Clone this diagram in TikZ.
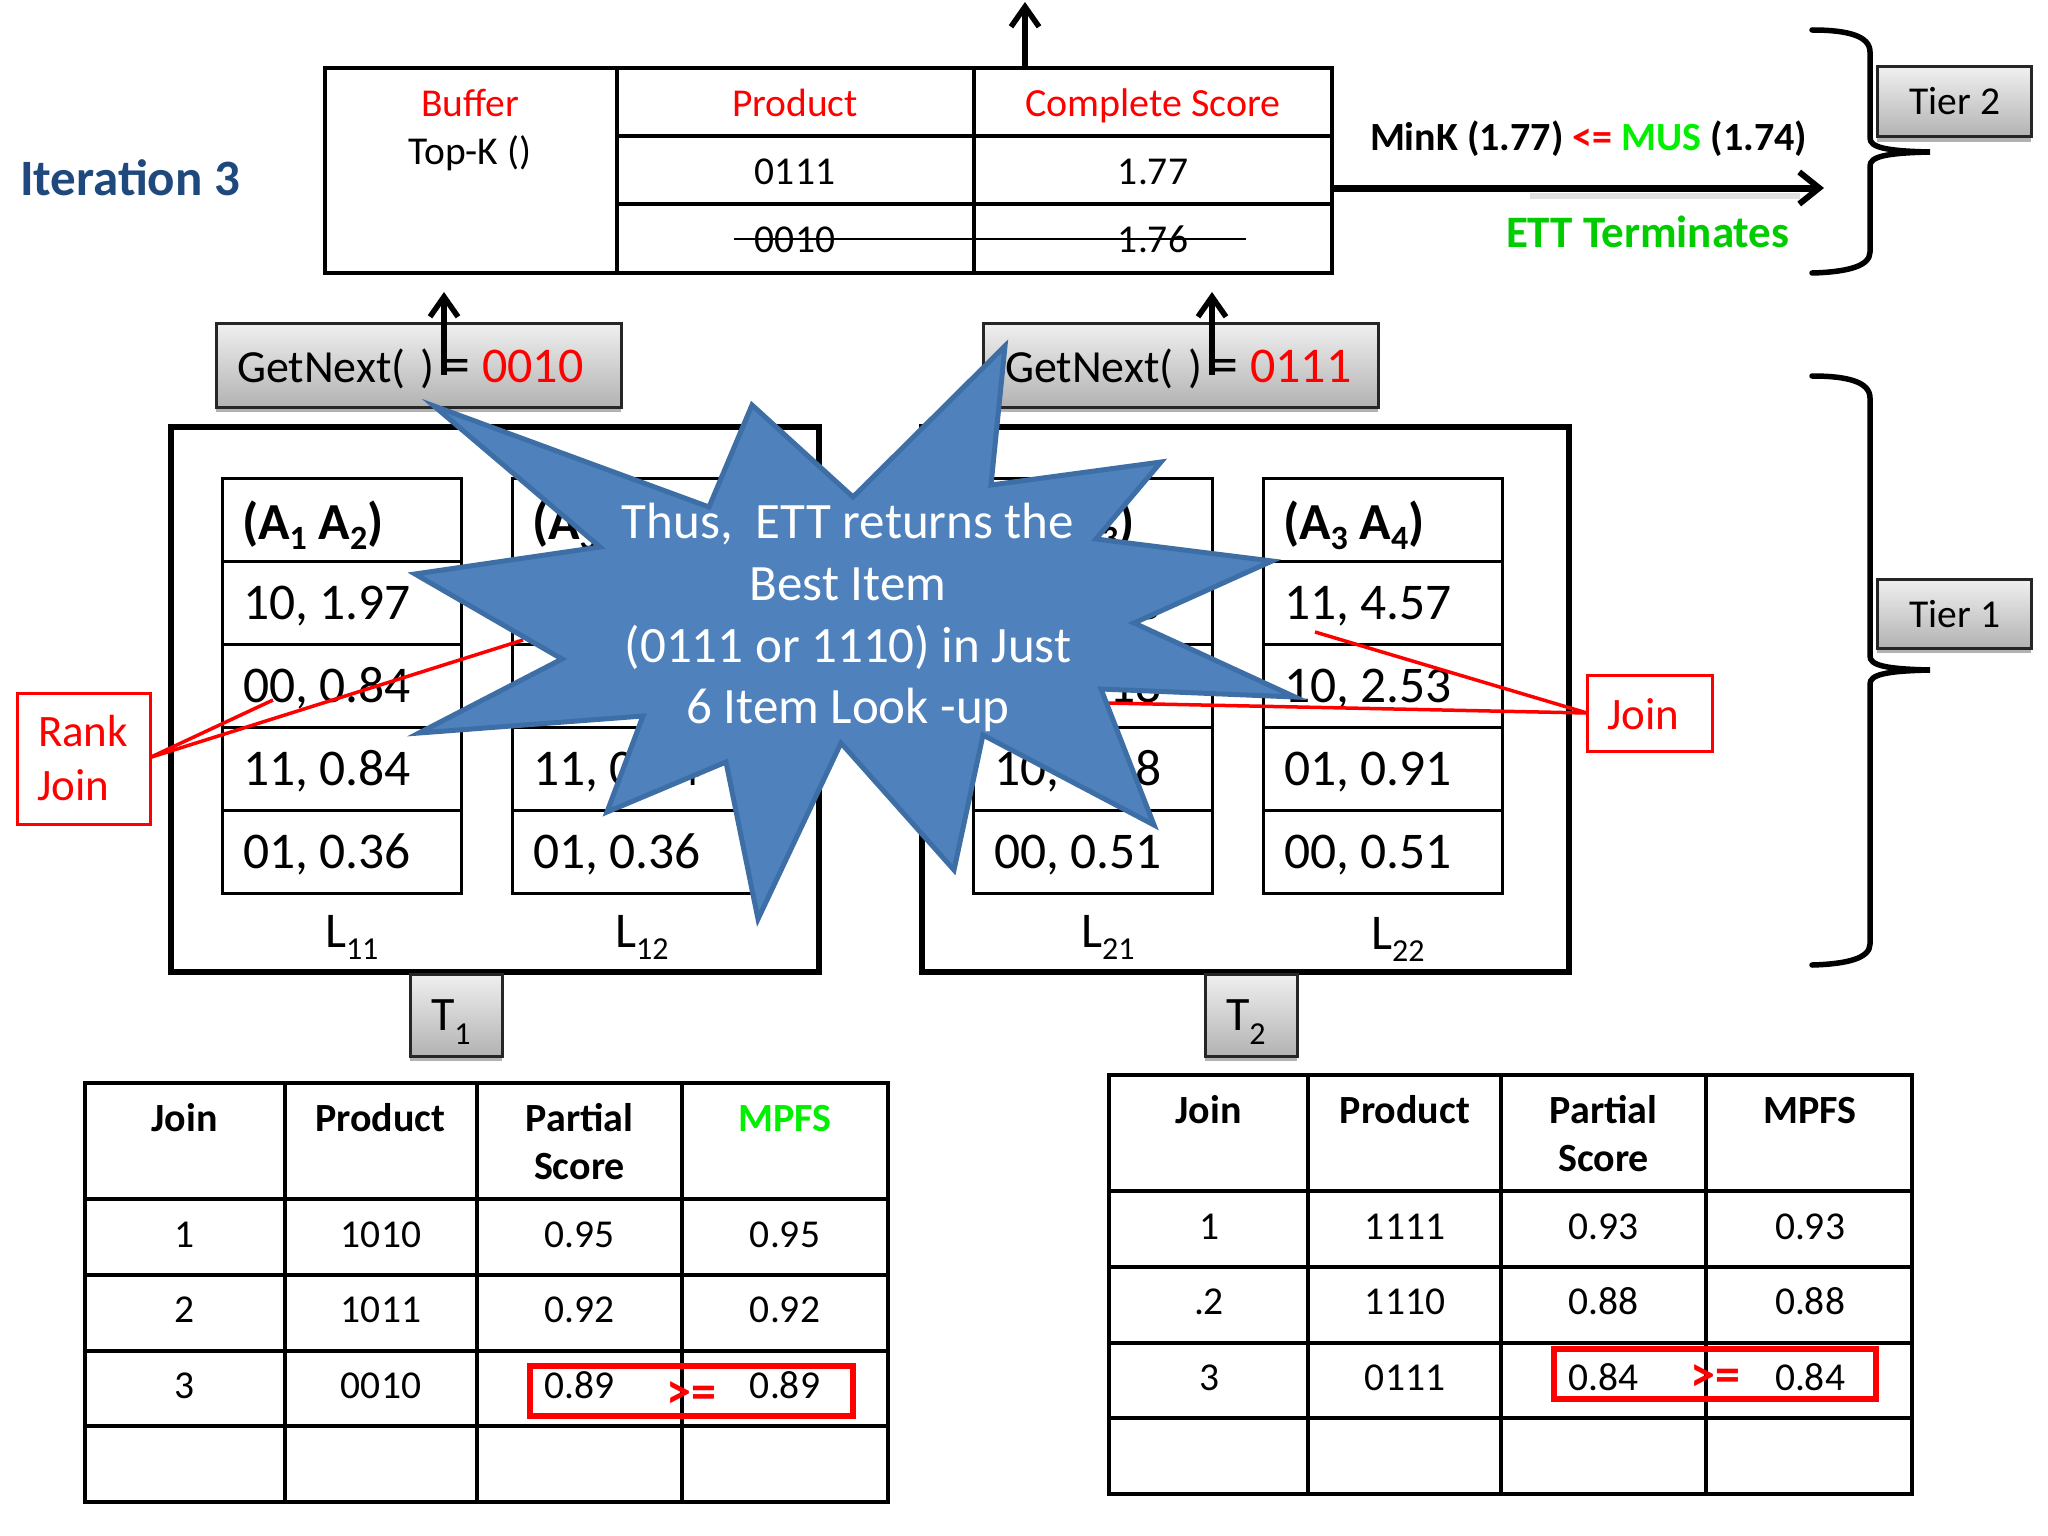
\documentclass[tikz,border=0pt]{standalone}
\usepackage{fontspec}
\setmainfont{Carlito}
\usetikzlibrary{arrows.meta,shadows}
\definecolor{starfill}{HTML}{4F81BD}
\definecolor{starline}{HTML}{3D6FA6}
\definecolor{titleblue}{HTML}{1F497D}
\definecolor{brightgreen}{HTML}{00F000}
\definecolor{darkgreen}{HTML}{00CC00}
\newcommand\fs[1]{\fontsize{#1}{#1}\selectfont}
\newcounter{txn}
\newcommand\tx[4][]{\stepcounter{txn}\node[txt,#1] (t\thetxn) at (#2,#3) {#4};}
\newcommand\bx[6]{\node[#6,inner sep=0pt,outer sep=0pt,minimum width={(#4-(#2))*1pt},minimum height={(#5-(#3))*1pt}] (#1) at ({(#2+#4)/2},{(#3+#5)/2}) {};}
\newcommand\sbs[2]{\lower#1pt\hbox{\fs{32}\mdseries #2}}
\newcommand\sbb[2]{\lower#1pt\hbox{\fs{34}\bfseries #2}}
\tikzset{
  x=1pt,y=-1pt,
  txt/.style={inner sep=0pt,outer sep=0pt,anchor=base,font=\fs{39.5}},
  lefttxt/.style={anchor=base west},
  grid/.style={draw=black,line width=3.2pt},
  gridbox/.style={draw=black,line width=3.2pt,fill=white},
  outer/.style={draw=black,line width=6pt},
  listbox/.style={draw=black,line width=3pt,fill=white},
  greybox/.style={draw=black!85,line width=3pt,top color=black!6,bottom color=black!30,
    drop shadow={shadow xshift=0pt,shadow yshift=-5pt,opacity=.3,fill=black}},
  redbox/.style={draw=red,line width=3pt},
  redthick/.style={draw=red,line width=6pt},
  redline/.style={draw=red,line width=3.5pt},
  barb/.style={line width=5.5pt,-{Straight Barb[length=20pt,width=28pt,line width=5.5pt]}},
  brace/.style={line width=5.5pt,line cap=round},
}
\begin{document}
\begin{tikzpicture}
\useasboundingbox (0,0) rectangle (2048,1536);
% top buffer table
\bx{topt}{325}{68}{1332}{273}{gridbox}
\coordinate (topA) at (617,68); \coordinate (topB) at (617,273);
\coordinate (topC) at (974,68); \coordinate (topD) at (974,273);
\coordinate (topE) at (617,136); \coordinate (topF) at (1332,136);
\coordinate (topG) at (617,204); \coordinate (topH) at (1332,204);
\draw[grid] (topA)--(topB) (topC)--(topD) (topE)--(topF) (topG)--(topH);
\tx[font=\fs{51}\bfseries,text=titleblue,lefttxt]{20}{195}{Iteration 3}
\tx[text=red]{470}{116.5}{Buffer}
\tx{470}{164.5}{Top-K ()}
\tx[text=red]{795}{116.5}{Product}
\tx[text=red,font=\fs{40}]{1153}{116.5}{Complete Score}
\tx{795}{184}{0111}
\tx{1153}{184}{1.77}
\tx{795}{252}{0010}
\tx{1153}{252}{1.76}
\coordinate (strikeA) at (734,239); \coordinate (strikeB) at (1246,239);
\draw[line width=2.5pt] (strikeA)--(strikeB);
% arrows out of table
\coordinate (upTip) at (1025,2); \coordinate (upBase) at (1025,68);
\draw[barb] (upBase)--(upTip);
\coordinate (rA) at (1332,188); \coordinate (rB) at (1824,188);
\draw[line width=6pt,black!20,opacity=.6] (1530,196)--(1800,196);
\draw[line width=7pt,-{Straight Barb[length=20pt,width=32pt,line width=6pt]}] (rA)--(rB);
\tx[font=\fs{40}\bfseries,lefttxt]{1370}{150}{MinK (1.77) \textcolor{red}{<=} \textcolor{brightgreen}{MUS} (1.74)}
\tx[font=\fs{45}\bfseries,text=darkgreen,lefttxt]{1506}{247}{ETT Terminates}
% braces
\draw[brace] (1812,30) .. controls (1848,30) and (1870,36) .. (1870,52) -- (1870,138)
  .. controls (1870,147) and (1884,151) .. (1930,152)
  .. controls (1884,153) and (1870,157) .. (1870,166) -- (1870,252)
  .. controls (1870,266) and (1848,272) .. (1812,273);
\draw[brace] (1812,376) .. controls (1848,376) and (1870,382) .. (1870,398) -- (1870,656)
  .. controls (1870,665) and (1884,669) .. (1930,670)
  .. controls (1884,671) and (1870,675) .. (1870,684) -- (1870,944)
  .. controls (1870,958) and (1848,964) .. (1812,965);
\bx{tierII}{1877}{67}{2031}{137}{greybox}
\tx{1955}{115}{Tier 2}
\bx{tierI}{1877}{579}{2031}{648}{greybox}
\tx{1955}{627}{Tier 1}
% outer boxes
\bx{outerI}{171}{427}{819}{972}{outer}
\bx{outerII}{922}{427}{1569}{972}{outer}
% list boxes
\foreach \nm/\xa/\xb in {la/222/461,lb/512/751,lc/973/1212,ld/1263/1502}{
  \foreach \r/\ya/\yb in {1/478/561,2/561/644,3/644/727,4/727/810,5/810/893}{
    \bx{\nm\r}{\xa}{\ya}{\xb}{\yb}{listbox}
  }
}
\tikzset{lst/.style={font=\fs{51.5},lefttxt},lsth/.style={font=\fs{52}\bfseries,lefttxt}}
\tx[lsth]{242}{539}{(A\sbb{10}{1} A\sbb{10}{2})}
\tx[lst]{243}{619}{10, 1.97}
\tx[lst]{243}{702}{00, 0.84}
\tx[lst]{243}{785}{11, 0.84}
\tx[lst]{243}{868}{01, 0.36}
\tx[lsth]{532}{539}{(A\sbb{10}{3} A\sbb{10}{4})}
\tx[lst]{533}{785}{11, 0.84}
\tx[lst]{533}{868}{01, 0.36}
\tx[lsth]{993}{539}{(A\sbb{10}{1} A\sbb{10}{3})}
\tx[lst]{994}{619}{11, 1.08}
\tx[lst]{994}{702}{01, 0.18}
\tx[lst]{994}{785}{10, 0.18}
\tx[lst]{994}{868}{00, 0.51}
\tx[lsth]{1283}{539}{(A\sbb{10}{3} A\sbb{10}{4})}
\tx[lst]{1284}{619}{11, 4.57}
\tx[lst]{1284}{702}{10, 2.53}
\tx[lst]{1284}{785}{01, 0.91}
\tx[lst]{1284}{868}{00, 0.51}
\tx[font=\fs{50},lefttxt]{325}{947}{L\sbs{12}{11}}
\tx[font=\fs{50},lefttxt]{615}{947}{L\sbs{12}{12}}
\tx[font=\fs{50},lefttxt]{1081}{947}{L\sbs{12}{21}}
\tx[font=\fs{50},lefttxt]{1371}{949}{L\sbs{12}{22}}
% T tabs
\bx{tabI}{410}{974}{502}{1056}{greybox}
\tx[font=\fs{48},lefttxt]{431}{1030}{T\sbs{14}{1}}
\bx{tabII}{1205}{974}{1297}{1056}{greybox}
\tx[font=\fs{48},lefttxt]{1226}{1030}{T\sbs{14}{2}}
% GetNext boxes and arrows
\bx{gnI}{216}{323}{621}{407}{greybox}
\tx[font=\fs{46},lefttxt]{237}{382}{GetNext(\,\,)}
\tx[font=\fs{56},lefttxt]{442}{383}{=}
\tx[font=\fs{50},text=red,lefttxt]{482}{382}{0010}
\coordinate (gnIa) at (444,375); \coordinate (gnIb) at (444,292);
\draw[barb] (gnIa)--(gnIb);
\bx{gnII}{983}{323}{1378}{407}{greybox}
\tx[font=\fs{46},lefttxt]{1005}{382}{GetNext(\,\,)}
\tx[font=\fs{56},lefttxt]{1210}{383}{=}
\tx[font=\fs{50},text=red,lefttxt]{1250}{382}{0111}
\coordinate (gnIIa) at (1212,375); \coordinate (gnIIb) at (1212,292);
\draw[barb] (gnIIa)--(gnIIb);
% rank join / join
\bx{rankbox}{17}{693}{150}{824}{redbox}
\tx[font=\fs{45},text=red,lefttxt]{38}{746}{Rank}
\tx[font=\fs{45},text=red,lefttxt]{37}{800}{Join}
\coordinate (rjA) at (273,700); \coordinate (rjB) at (523,640);
\draw[redline] (rankbox.east)++(0,-1)--(rjA);
\draw[redline] (rankbox.east)++(0,-1)--(rjB);
\bx{joinbox}{1587}{675}{1712}{751}{redbox}
\tx[font=\fs{45},text=red,lefttxt]{1607}{729}{Join}
\coordinate (jA) at (1315,632); \coordinate (jB) at (1105,703);
\draw[redline] (joinbox.west)--(jA);
\draw[redline] (joinbox.west)--(jB);
% star
\draw[fill=starfill,draw=starline,line width=5pt,line join=miter,miter limit=20]
 (434,406)--(709,507)--(752,405)--(853,497)--(1005,346)--(991,485)--(1161,462)--(1096,539)
 --(1272,561)--(1134,623)--(1295,697)--(1101,689)--(1154,825)--(983,735)--(954,870)
 --(841,743)--(758,919)--(726,762)--(607,812)--(643,716)--(419,733)--(562,659)--(415,574)--(600,547)--cycle;
\tikzset{st/.style={font=\fs{51},text=white}}
\tx[st]{848}{538}{Thus,\ \ ETT returns the}
\tx[st]{848}{600}{Best Item}
\tx[st]{848}{662}{(0111 or 1110) in Just}
\tx[st]{848}{723}{6 Item Look -up}
% lower left table
\bx{lt}{85}{1083}{888}{1502}{gridbox}
\coordinate (ltA) at (285,1083); \coordinate (ltB) at (285,1502);
\coordinate (ltC) at (477,1083); \coordinate (ltD) at (477,1502);
\coordinate (ltE) at (682,1083); \coordinate (ltF) at (682,1502);
\coordinate (ltG) at (85,1199); \coordinate (ltH) at (888,1199);
\coordinate (ltI) at (85,1275); \coordinate (ltJ) at (888,1275);
\coordinate (ltK) at (85,1351); \coordinate (ltL) at (888,1351);
\coordinate (ltM) at (85,1426); \coordinate (ltN) at (888,1426);
\draw[grid] (ltA)--(ltB) (ltC)--(ltD) (ltE)--(ltF) (ltG)--(ltH) (ltI)--(ltJ) (ltK)--(ltL) (ltM)--(ltN);
\tikzset{hd/.style={font=\fs{40}\bfseries}}
\tx[hd]{184.5}{1131}{Join}
\tx[hd]{380.5}{1131}{Product}
\tx[hd]{579.5}{1179}{Score}
\tx[hd]{579.5}{1131}{Partial}
\tx[hd,text=brightgreen]{785}{1131}{MPFS}
\tx{185}{1247}{1}\tx{381}{1247}{1010}\tx{579.5}{1247}{0.95}\tx{785}{1247}{0.95}
\tx{185}{1322}{2}\tx{381}{1322}{1011}\tx{579.5}{1322}{0.92}\tx{785}{1322}{0.92}
\tx{185}{1398}{3}\tx{381}{1398}{0010}\tx{579.5}{1398}{0.89}\tx{785}{1398}{0.89}
\bx{ltred}{530}{1366}{853}{1416}{redthick}
\tx[font=\fs{50}\bfseries,text=red]{691}{1408}{>=}
% lower right table
\bx{rt}{1109}{1075}{1912}{1494}{gridbox}
\coordinate (rtA) at (1308,1075); \coordinate (rtB) at (1308,1494);
\coordinate (rtC) at (1501,1075); \coordinate (rtD) at (1501,1494);
\coordinate (rtE) at (1706,1075); \coordinate (rtF) at (1706,1494);
\coordinate (rtG) at (1109,1191); \coordinate (rtH) at (1912,1191);
\coordinate (rtI) at (1109,1267); \coordinate (rtJ) at (1912,1267);
\coordinate (rtK) at (1109,1343); \coordinate (rtL) at (1912,1343);
\coordinate (rtM) at (1109,1418); \coordinate (rtN) at (1912,1418);
\draw[grid] (rtA)--(rtB) (rtC)--(rtD) (rtE)--(rtF) (rtG)--(rtH) (rtI)--(rtJ) (rtK)--(rtL) (rtM)--(rtN);
\tx[hd]{1208.5}{1123}{Join}
\tx[hd]{1405}{1123}{Product}
\tx[hd]{1603.5}{1171}{Score}
\tx[hd]{1603.5}{1123}{Partial}
\tx[hd]{1810}{1123}{MPFS}
\tx{1209}{1239}{1}\tx{1405}{1239}{1111}\tx{1603.5}{1239}{0.93}\tx{1810}{1239}{0.93}
\tx{1209}{1314}{.2}\tx{1405}{1314}{1110}\tx{1603.5}{1314}{0.88}\tx{1810}{1314}{0.88}
\tx{1209}{1390}{3}\tx{1405}{1390}{0111}\tx{1603.5}{1390}{0.84}\tx{1810}{1390}{0.84}
\bx{rtred}{1554}{1349}{1876}{1399}{redthick}
\tx[font=\fs{50}\bfseries,text=red]{1715}{1391}{>=}
\end{tikzpicture}
\end{document}
